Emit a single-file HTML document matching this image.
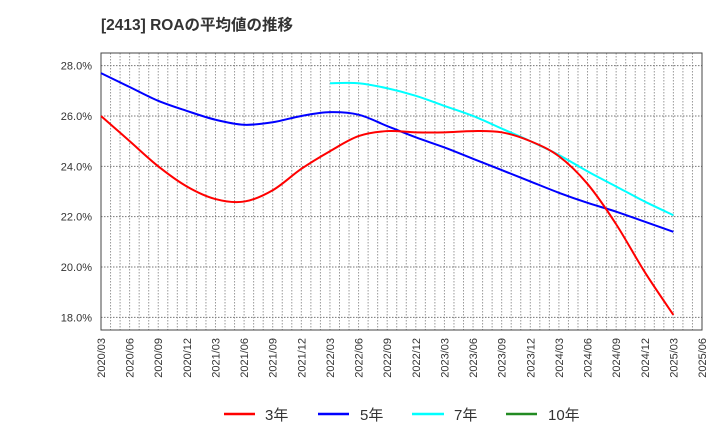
<!DOCTYPE html>
<html><head><meta charset="utf-8"><style>
body{margin:0;background:#fff;}
svg text{font-family:"Liberation Sans","Noto Sans CJK JP",sans-serif;}
</style></head><body>
<svg id="chart" width="720" height="440" xmlns="http://www.w3.org/2000/svg">
<text x="101" y="30" font-size="15.5" font-weight="bold" fill="#333">[2413]  ROAの平均値の推移</text>
<g id="grid"></g>
<rect x="101" y="53" width="601" height="277" fill="none" stroke="#444" stroke-width="1"/>
<g id="yticks"></g><g id="xticks"></g><g id="series"></g>
<g id="legend">
<line x1="224" y1="414" x2="255" y2="414" stroke="#ff0000" stroke-width="2.5"/>
<text x="265" y="420" font-size="15" fill="#333">3年</text>
<line x1="318" y1="414" x2="349" y2="414" stroke="#0000ff" stroke-width="2.5"/>
<text x="360" y="420" font-size="15" fill="#333">5年</text>
<line x1="412" y1="414" x2="444" y2="414" stroke="#00ffff" stroke-width="2.5"/>
<text x="454" y="420" font-size="15" fill="#333">7年</text>
<line x1="506" y1="414" x2="537" y2="414" stroke="#228b22" stroke-width="2.5"/>
<text x="548" y="420" font-size="15" fill="#333">10年</text>
</g>
</svg>
<script>
const categories=["2020/03","2020/06","2020/09","2020/12","2021/03","2021/06","2021/09","2021/12","2022/03","2022/06","2022/09","2022/12","2023/03","2023/06","2023/09","2023/12","2024/03","2024/06","2024/09","2024/12","2025/03","2025/06"];
const yTicks=[18,20,22,24,26,28];
const roa3=[26.0,25.0,24.0,23.2,22.7,22.6,23.05,23.9,24.6,25.2,25.4,25.35,25.35,25.4,25.35,25.0,24.4,23.3,21.7,19.8,18.1];
const roa5=[27.7,27.15,26.6,26.2,25.85,25.65,25.75,26.0,26.15,26.05,25.6,25.15,24.75,24.3,23.85,23.4,22.95,22.55,22.2,21.8,21.4];
const roa7=[null,null,null,null,null,null,null,null,27.3,27.3,27.1,26.8,26.4,26.0,25.5,25.0,24.45,23.8,23.2,22.6,22.06];
const roa10=[];
const NS="http://www.w3.org/2000/svg";
const X0=101,X1=702,Y0=53,Y1=330,YMIN=17.5,YMAX=28.5;
const xs=i=>X0+(X1-X0)*i/(categories.length-1);
const ys=v=>Y1-(v-YMIN)/(YMAX-YMIN)*(Y1-Y0);
function mk(t,a,p){const e=document.createElementNS(NS,t);for(const k in a)e.setAttribute(k,a[k]);p.appendChild(e);return e;}
const grid=document.getElementById('grid');
for(let m=1;m<(categories.length-1)*3;m++){const x=X0+(X1-X0)*m/((categories.length-1)*3);
const l=mk('line',{x1:x,y1:Y0,x2:x,y2:Y1,stroke:'#999','stroke-width':1,'stroke-dasharray':'1.5,1.5'},grid);

}
yTicks.forEach(v=>{const y=ys(v);
const l=mk('line',{x1:X0,y1:y,x2:X1,y2:y,stroke:'#777','stroke-width':1,'stroke-dasharray':'1.5,1.5'},grid);

});
const yt=document.getElementById('yticks');
yTicks.forEach(v=>{const t=mk('text',{x:92,y:ys(v)+4,'font-size':11,fill:'#333','text-anchor':'end'},yt);t.textContent=v.toFixed(1)+'%';

});
const xt=document.getElementById('xticks');
categories.forEach((c,i)=>{const x=xs(i)+4;const t=mk('text',{x:x,y:338,'font-size':11,fill:'#333','text-anchor':'end',transform:`rotate(-90 ${x} 338)`},xt);t.textContent=c;

});
function path(arr){const pts=[];arr.forEach((v,i)=>{if(v!=null)pts.push([xs(i),ys(v)]);});
if(pts.length<2)return '';let d=`M${pts[0][0]},${pts[0][1]}`;
for(let i=0;i<pts.length-1;i++){const p0=pts[i-1]||pts[i],p1=pts[i],p2=pts[i+1],p3=pts[i+2]||p2;
d+=` C${p1[0]+(p2[0]-p0[0])/6},${p1[1]+(p2[1]-p0[1])/6} ${p2[0]-(p3[0]-p1[0])/6},${p2[1]-(p3[1]-p1[1])/6} ${p2[0]},${p2[1]}`;}return d;}
const sg=document.getElementById('series');
[[roa10,'#228b22','line-10y'],[roa7,'#00ffff','line-7y'],[roa5,'#0000ff','line-5y'],[roa3,'#ff0000','line-3y']].forEach(([a,c,n])=>{const d=path(a);if(!d)return;
const p=mk('path',{d:d,fill:'none',stroke:c,'stroke-width':2},sg);

});
</script>
</body></html>
